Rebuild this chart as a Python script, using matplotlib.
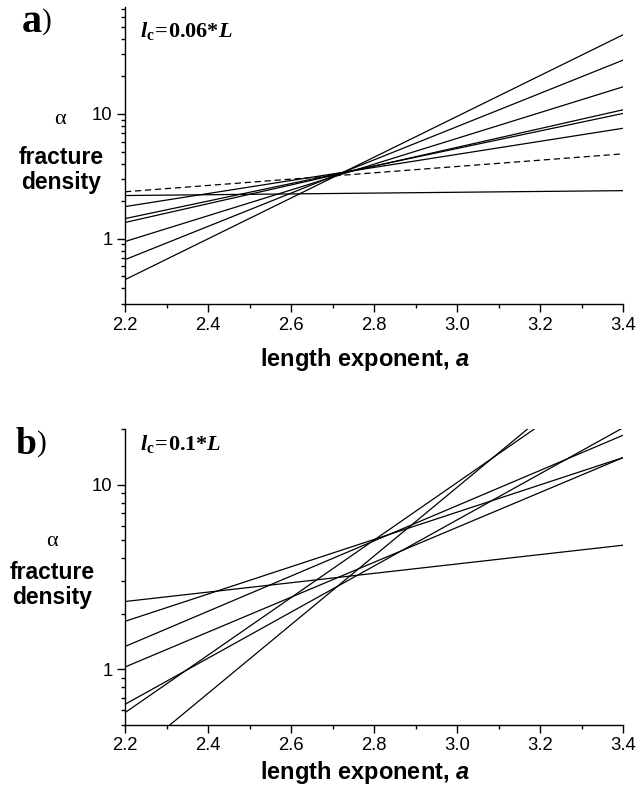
import numpy as np
import matplotlib
matplotlib.use('Agg')
from matplotlib import pyplot as plt
from matplotlib import ticker

plt.rcParams['font.family'] = ['Liberation Sans', 'DejaVu Sans']
# Times-like bold for the l_c notes, Arial-like bold italic for the "a" in the axis title
plt.rcParams['mathtext.fontset'] = 'custom'
plt.rcParams['mathtext.rm'] = 'Liberation Serif'
plt.rcParams['mathtext.bf'] = 'Liberation Serif:bold'
plt.rcParams['mathtext.bfit'] = 'Liberation Serif:italic:bold'
plt.rcParams['mathtext.sf'] = 'Liberation Sans:italic:bold'

# length exponent range (both ends of each line)
a_ends = [2.2, 3.4]

# panel a, l_c = 0.06*L : fracture density at a=2.2 and a=3.4
a_solid_left = [0.47, 0.68, 0.95, 1.35, 1.45, 1.81, 2.22]
a_solid_right = [43.1, 27.0, 16.5, 10.8, 10.1, 7.68, 2.43]
a_dashed = [2.38, 4.79]

# panel b, l_c = 0.1*L
b_left = [2.33, 1.82, 1.33, 1.03, 0.647, 0.583, 0.315]
b_right = [4.7, 14.0, 18.5, 14.0, 20.3, 43.0, 53.5]

xticks = [2.2, 2.4, 2.6, 2.8, 3.0, 3.2, 3.4]

W, H = 637, 796
fig = plt.figure(figsize=(W / 100, H / 100), dpi=100)


def px(x, y):
    # pixel position -> figure fraction
    return x / W, 1 - y / H


def style_axes(ax, ylim):
    ax.set_yscale('log')
    ax.set_xlim(2.2, 3.4)
    ax.set_ylim(*ylim)
    ax.set_xticks(xticks)
    ax.set_xticklabels(['%.1f' % t for t in xticks])
    ax.xaxis.set_minor_locator(ticker.MultipleLocator(0.1))
    ax.yaxis.set_major_locator(ticker.LogLocator(base=10, numticks=10))
    ax.yaxis.set_minor_locator(ticker.LogLocator(base=10, subs=np.arange(2, 10), numticks=10))
    ax.yaxis.set_major_formatter(ticker.FuncFormatter(lambda v, p: '%g' % v))
    ax.yaxis.set_minor_formatter(ticker.NullFormatter())
    for s in ['top', 'right']:
        ax.spines[s].set_visible(False)
    for s in ['left', 'bottom']:
        ax.spines[s].set_linewidth(1.0)
    ax.tick_params(which='major', direction='out', length=5.5, width=1.0,
                   labelsize=13.3, pad=3.5)
    ax.tick_params(which='minor', direction='out', length=3.2, width=1.0)


def panel_text(dy, letter, lsize, lx, parx, lc_text, lc_y, alpha_x, block_x,
               block_y, alpha_y, xlab_y):
    fig.text(*px(lx, 32 + dy), letter, fontsize=lsize, fontweight='bold',
             family='Liberation Serif', va='baseline')
    fig.text(*px(parx, 29 + dy), ')', fontsize=21, family='Liberation Serif',
             va='baseline')
    fig.text(*px(140, lc_y), lc_text, fontsize=16, va='baseline')
    fig.text(*px(alpha_x, alpha_y), '\u03b1', fontsize=16, family='Liberation Serif',
             ha='center', va='center')
    fig.text(*px(block_x, block_y), 'fracture\ndensity', fontsize=16.5, fontweight='bold',
             ha='center', va='center', multialignment='center', linespacing=1.15)
    fig.text(*px(365, xlab_y), r'length exponent, $\mathsf{a}$', fontsize=17,
             fontweight='bold', ha='center', va='center')


# panel a
ax1 = fig.add_axes([125 / W, 1 - 304 / H, 498 / W, 297 / H])
for lv, rv in zip(a_solid_left, a_solid_right):
    ax1.plot(a_ends, [lv, rv], color='black', linewidth=0.9)
ax1.plot(a_ends, a_dashed, color='black', linewidth=0.9, dashes=(5, 3))
style_axes(ax1, (0.3, 72))

# panel b
ax2 = fig.add_axes([125 / W, 1 - 725 / H, 498 / W, 296 / H])
for lv, rv in zip(b_left, b_right):
    ax2.plot(a_ends, [lv, rv], color='black', linewidth=0.9)
style_axes(ax2, (0.5, 20))

panel_text(0, 'a', 29, 22, 42,
           r'$\mathbfit{l}_{\mathbf{c}}\!\mathbf{=}\!\mathbf{0.06}\mathbf{*}\mathbfit{L}$', 37,
           60, 61, 170, 120, 360)
panel_text(422, 'b', 27, 15, 37,
           r'$\mathbfit{l}_{\mathbf{c}}\!\mathbf{=}\!\mathbf{0.1}\mathbf{*}\mathbfit{L}$', 450,
           52, 52, 585, 541, 772)

fig.savefig('out.png', dpi=100)
